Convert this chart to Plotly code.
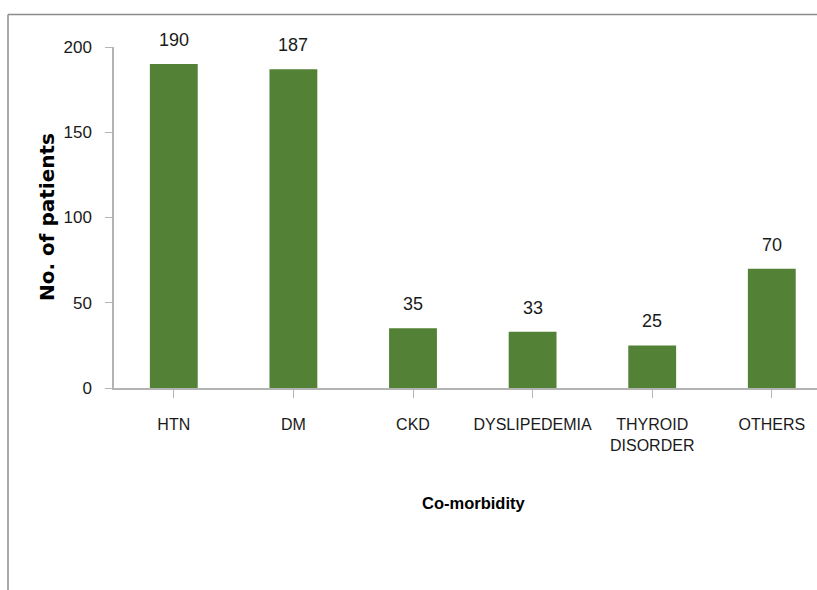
import plotly.graph_objects as go

categories = ["HTN", "DM", "CKD", "DYSLIPEDEMIA", "THYROID<br>DISORDER", "OTHERS"]
patients = [190, 187, 35, 33, 25, 70]
y_ticks = [0, 50, 100, 150, 200]

BAR = "#538135"
AXIS = "#b3b3b3"
FRAME = "#8c8c8c"
FONT = "Liberation Sans, Arial, sans-serif"

x_idx = list(range(len(categories)))

fig = go.Figure()
fig.add_trace(go.Bar(
    x=x_idx, y=patients, width=0.4,
    marker=dict(color=BAR, line=dict(width=0)),
    hoverinfo="skip",
))

for xi, v in zip(x_idx, patients):
    fig.add_annotation(x=xi, y=v, text=str(v), showarrow=False,
                       yanchor="bottom", yshift=12,
                       font=dict(family=FONT, size=18, color="#1a1a1a"))

fig.update_layout(
    width=817, height=590,
    margin=dict(l=114, r=0, t=47, b=202),
    paper_bgcolor="white", plot_bgcolor="white",
    showlegend=False,
    xaxis=dict(
        range=[-0.5, -0.5 + 703 / 119.6],
        tickmode="array", tickvals=x_idx, ticktext=categories,
        tickson="boundaries", ticks="outside", ticklen=8, tickcolor=AXIS, tickwidth=1,
        showline=True, linecolor=AXIS, linewidth=1.5,
        showgrid=False, zeroline=False, tickangle=0,
        tickfont=dict(family=FONT, size=16, color="#1a1a1a"),
        ticklabelstandoff=13,
    ),
    yaxis=dict(
        range=[0, 200],
        tickmode="array", tickvals=y_ticks,
        ticks="outside", ticklen=7, tickcolor=AXIS, tickwidth=1,
        showline=True, linecolor=AXIS, linewidth=1.5,
        showgrid=False, zeroline=False,
        tickfont=dict(family=FONT, size=17, color="#1a1a1a"),
        ticklabelstandoff=10,
    ),
)

# axis titles
fig.add_annotation(xref="paper", yref="paper", x=(47 - 114) / 703, y=(388 - 217) / 341,
                   xanchor="center", yanchor="middle",
                   text="<b>No. of patients</b>", textangle=-90, showarrow=False,
                   font=dict(family="DejaVu Sans", size=20, color="black"))
fig.add_annotation(xref="paper", yref="paper", x=(473 - 114) / 703, y=(388 - 503) / 341,
                   xanchor="center", yanchor="middle",
                   text="<b>Co-morbidity</b>", showarrow=False,
                   font=dict(family=FONT, size=16.5, color="black"))

# outer frame lines (top and left)
fig.add_shape(type="line", xref="paper", yref="paper",
              x0=(8 - 114) / 703, x1=(830 - 114) / 703,
              y0=(388 - 14.5) / 341, y1=(388 - 14.5) / 341,
              line=dict(color=FRAME, width=1.5))
fig.add_shape(type="line", xref="paper", yref="paper",
              x0=(8 - 114) / 703, x1=(8 - 114) / 703,
              y0=(388 - 14.5) / 341, y1=(388 - 600) / 341,
              line=dict(color=FRAME, width=1.5))

fig.write_html("out.html", config={"displayModeBar": False},
               post_script="document.body.style.margin='0';")
